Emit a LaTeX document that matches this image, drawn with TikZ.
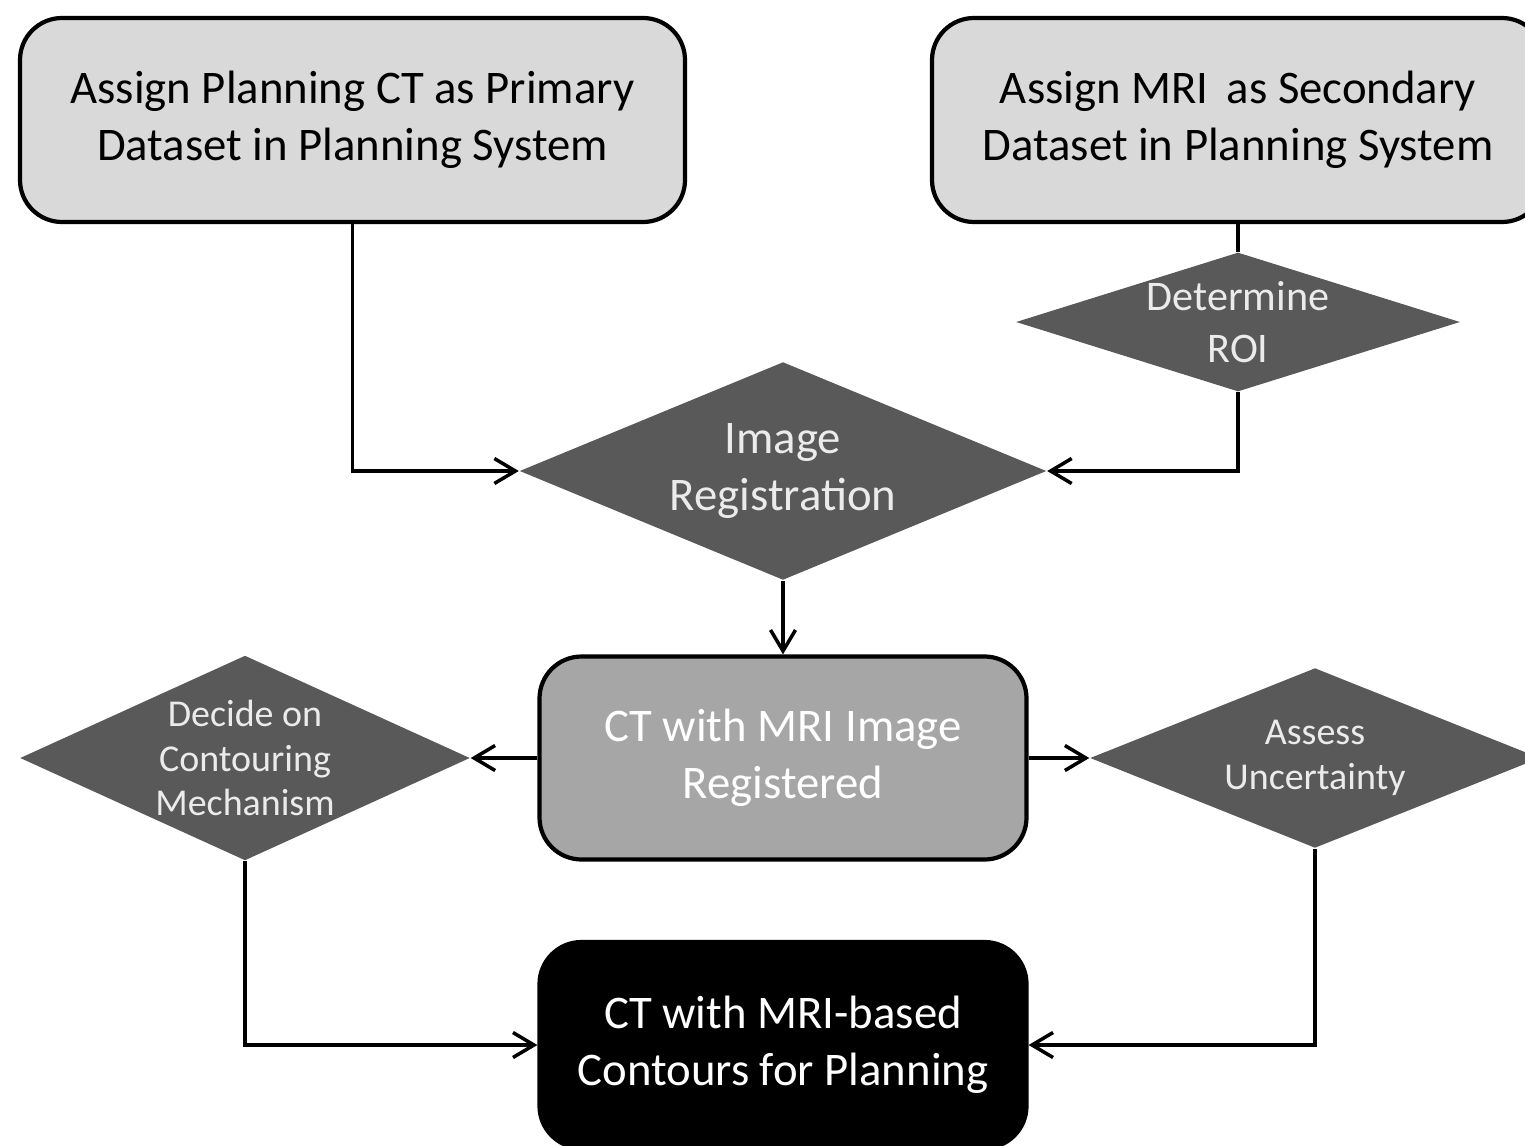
\documentclass[tikz,border=0pt]{standalone}
\usepackage{fontspec}
\setmainfont{Carlito}
\usetikzlibrary{shapes.geometric,arrows.meta}

\definecolor{boxlight}{HTML}{D9D9D9}
\definecolor{boxmid}{HTML}{A6A6A6}
\definecolor{decfill}{HTML}{595959}
\definecolor{dectext}{HTML}{EBEBEB}

\tikzset{
	stepbox/.style={draw=black, line width=1.2pt, rounded corners=0.42cm, align=center,
		inner sep=0pt, minimum width=6.65cm, minimum height=2.04cm,
		font=\fontsize{13.3}{16.3}\selectfont},
	decision/.style={diamond, fill=decfill, text=dectext, align=center, inner sep=0pt},
	conn/.style={line width=1pt, -{Straight Barb[length=2.1mm,width=2.5mm,line width=1pt]}},
	plainconn/.style={line width=1pt}
}

\begin{document}
\begin{tikzpicture}
		\useasboundingbox (0,0) rectangle (15.25,11.45);

		\node[stepbox, fill=boxlight] (primary) at (3.525, 10.25) {Assign Planning CT as Primary\\Dataset in Planning System};
		\node[stepbox, fill=boxlight, minimum width=6.12cm] (secondary) at (12.38, 10.25) {Assign MRI\, as Secondary\\Dataset in Planning System};
		\node[decision, minimum width=4.37cm, minimum height=1.37cm, aspect=3.19,
			font=\fontsize{12}{15}\selectfont] (roi) at (12.38, 8.23) {Determine\\ROI};
		\node[decision, minimum width=5.27cm, minimum height=2.18cm, aspect=2.42,
			font=\fontsize{13.3}{16.3}\selectfont] (registration) at (7.83, 6.74) {Image\\Registration};
		\node[stepbox, fill=boxmid, text=white, minimum width=4.87cm, minimum height=2.03cm] (registered) at (7.83, 3.87) {CT with MRI Image\\Registered};
		\node[decision, minimum width=4.5cm, minimum height=2.05cm, aspect=2.2,
			font=\fontsize{10.8}{12.6}\selectfont] (contouring) at (2.45, 3.87) {Decide on\\Contouring\\Mechanism};
		\node[decision, minimum width=4.5cm, minimum height=1.8cm, aspect=2.5,
			font=\fontsize{10.8}{12.8}\selectfont] (uncertainty) at (13.15, 3.87) {Assess\\Uncertainty};
		\node[stepbox, fill=black, text=white, minimum width=4.87cm, minimum height=2.06cm] (contours) at (7.83, 1.0) {CT with MRI-based\\Contours for Planning};

		\draw[conn] (primary.south) |- (registration.west);
		\draw[plainconn] (secondary.south) -- (roi.north);
		\draw[conn] (roi.south) |- (registration.east);
		\draw[conn] (registration.south) -- (registered.north);
		\draw[conn] (registered.west) -- (contouring.east);
		\draw[conn] (registered.east) -- (uncertainty.west);
		\draw[conn] (contouring.south) |- (contours.west);
		\draw[conn] (uncertainty.south) |- (contours.east);
\end{tikzpicture}
\end{document}
